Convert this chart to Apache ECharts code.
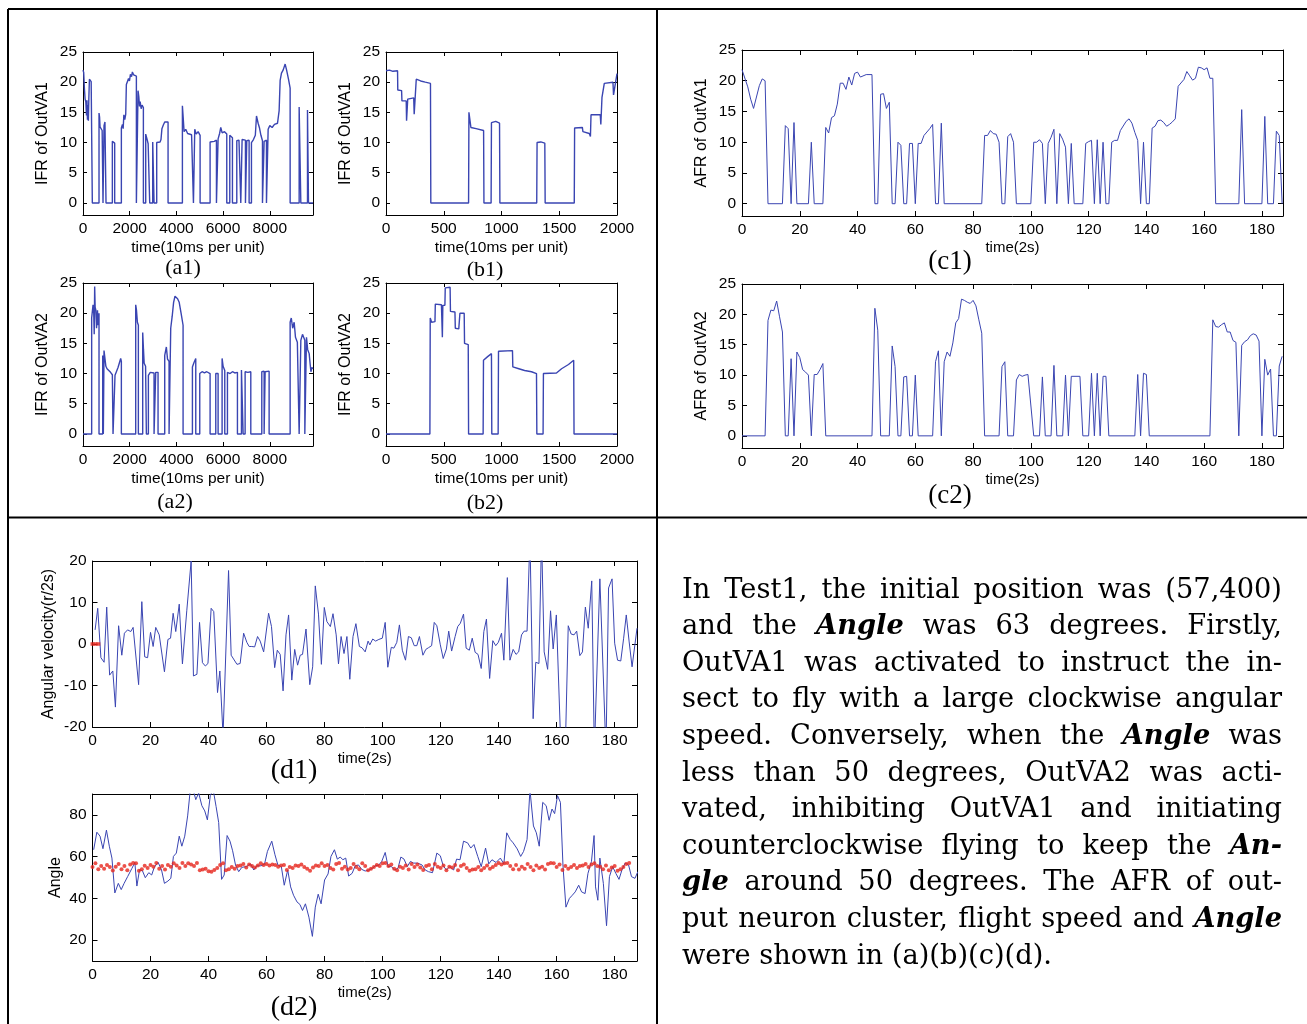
<!DOCTYPE html>
<html><head><meta charset="utf-8">
<script src="https://cdn.jsdelivr.net/npm/echarts@6/dist/echarts.min.js"></script>
<style>html,body{margin:0;padding:0;background:#fff}#c{width:1307px;height:1024px}</style>
</head><body><div id="c"></div><script>
// ---------- data ----------
const a1 = [[0,22],[30,21.6],[60,19],[90,17.2],[120,16.8],[150,14.5],[170,17],[190,13.8],[210,16.2],[230,13.6],[250,17.3],[270,17.6],[275,20.5],[310,20.3],[350,20.1],[395,19.9],[400,0],
[686,0],[686,14.9],[710,14.2],[730,12.6],[780,12.4],[820,12],[857,12.2],[857,0],
[900,0],[900,12.8],[940,13.4],[986,13.5],[986,0],
[1257,0],[1257,10.2],[1300,10],[1357,9.9],[1357,0],
[1643,0],[1643,12.4],[1690,13],[1720,12.3],[1750,14.6],[1790,13.8],[1830,14.7],[1857,19.6],[1900,19.8],[1950,20.6],[1990,20.2],[2030,21.3],[2080,20.9],[2115,21.7],[2170,21.2],[2230,21.5],[2286,21],[2286,0],
[2357,0],[2357,18.6],[2390,17.6],[2420,16],[2450,16.8],[2490,15.6],[2530,16.2],[2586,15.8],[2586,0],
[2686,0],[2686,11.4],[2740,10.6],[2790,9.8],[2857,9.9],[2857,0],
[2986,0],[2986,10.1],[3043,10.2],[3043,0],
[3157,0],[3157,10],[3220,10.3],[3300,10.1],[3340,10.5],[3380,12.3],[3440,12.9],[3500,13.4],[3580,13.2],[3643,13.4],[3643,0],
[4257,0],[4257,16.1],[4290,14.2],[4330,11.8],[4400,12.2],[4480,11.5],[4560,11.8],[4650,11.3],[4730,11.6],[4730,0],
[4786,0],[4786,12.2],[4850,11.4],[4930,11.8],[5015,11.2],[5015,0],
[5443,0],[5443,10.1],[5520,10.4],[5620,10.2],[5715,10.4],[5715,0],
[5786,0],[5786,10.6],[5850,11.5],[5900,12.5],[5960,11.6],[6060,11.8],[6157,11.4],[6157,0],
[6286,0],[6286,11.2],[6350,11.5],[6400,10.8],[6400,0],
[6586,0],[6586,10.3],[6680,10.4],[6757,10.2],[6757,0],
[6814,0],[6814,10.5],[6957,10.4],[6957,0],
[7014,0],[7014,10.3],[7114,10.4],[7114,0],
[7214,0],[7214,10],[7300,10.5],[7380,11.2],[7430,14.4],[7500,13.2],[7560,12.4],[7620,11.2],[7686,10.3],[7686,0],
[7757,0],[7757,10.2],[7857,10.4],[7857,0],
[7929,0],[7929,12.2],[8000,12.8],[8100,12.5],[8200,13],[8330,13.2],[8400,15.3],[8443,20.3],[8500,21.5],[8570,22],[8657,23],[8720,22],[8800,20.5],[8871,19],[8871,0],
[9257,0],[9257,15.9],[9329,15.9],[9329,0],
[9614,0],[9614,15.4],[9657,15.4],[9657,0],[9850,0]];

const a2 = [[0,0],[371,0],[371,19.2],[400,19],[430,21.4],[460,20],[480,16.5],[500,24.4],[520,21],[550,20.5],[580,17.5],[620,20.5],[650,18],[686,20],[686,0],
[843,0],[843,13],[871,13.2],[871,0],[900,0],[900,13.8],[940,14],[980,11.2],[1030,10.8],[1100,10.6],[1180,10.2],[1257,9.8],[1286,10],[1286,0],
[1371,0],[1371,9.7],[1430,10.3],[1500,11],[1560,11.8],[1614,12.5],[1643,12],[1643,0],
[2257,0],[2257,21.4],[2290,20.5],[2330,18.5],[2371,18],[2371,0],
[2557,0],[2557,16.8],[2590,14],[2620,11.7],[2680,11.2],[2714,11.5],[2714,0],
[2800,0],[2800,9.7],[2880,10.2],[2960,10.4],[3043,10.1],[3043,0],
[3114,0],[3114,10.2],[3214,10.2],[3214,0],
[3500,0],[3500,13],[3570,14.4],[3620,12.4],[3686,12],[3686,0],
[3757,0],[3757,17.5],[3820,19.5],[3880,21.8],[3940,22.8],[3971,23],[4050,22.4],[4120,21.8],[4200,20],[4286,18],[4286,0],
[4686,0],[4686,11.1],[4750,11.8],[4829,12.5],[4829,0],
[5000,0],[5000,10],[5100,10.3],[5200,10.1],[5300,10.3],[5443,10],[5443,0],
[5686,0],[5686,10],[5786,10],[5786,0],
[5957,0],[5957,12.5],[6000,11.2],[6071,10.5],[6071,0],
[6186,0],[6186,10.2],[6300,10],[6400,10.3],[6500,10.1],[6614,10.2],[6614,0],
[6786,0],[6786,10.6],[6857,10.4],[6857,0],
[6943,0],[6943,10.3],[7060,10.2],[7186,10.3],[7186,0],
[7657,0],[7657,10.3],[7757,10.4],[7757,0],
[7800,0],[7800,10.3],[7971,10.4],[7971,0],
[8871,0],[8871,18.5],[8920,19.2],[8980,17.5],[9043,18.5],[9100,16],[9180,15.2],[9257,15.3],[9257,0],
[9329,0],[9329,15.5],[9400,16.5],[9471,16.8],[9500,15.5],[9500,0],
[9571,0],[9571,16],[9620,14],[9686,13.3],[9730,11.5],[9760,10.3],[9800,11],[9850,10.8]];

const b1 = [[0,21.9],[30,22],[60,21.8],[100,21.9],[102,18.7],[135,18.6],[138,16.9],[175,16.9],[178,13.6],[185,13.8],[188,17.2],[240,17.4],[244,14.7],[258,14.5],[262,20.5],[300,20.2],[340,20],[385,19.8],[388,0],
[715,0],[718,15],[735,12.5],[780,12.3],[845,12],[848,0],
[910,0],[913,13.3],[950,13.5],[983,13.2],[986,0],
[1305,0],[1308,10],[1340,10.1],[1375,9.9],[1378,0],
[1630,0],[1633,12.4],[1700,12.5],[1705,11.8],[1760,11.5],[1770,11],[1775,14.6],[1855,14.6],[1860,13],[1870,17.5],[1890,19.8],[1965,20],[1970,17.9],[1985,18.2],[2000,21.4]];

const b2 = [[0,0],[380,0],[383,19.2],[395,18.5],[424,18.6],[427,21.5],[480,21.4],[488,16],[492,21.3],[510,21.3],[513,24.2],[555,24.3],[558,20.3],[597,20.2],[600,17.5],[630,17.4],[640,20],[677,20],[680,15],[712,14.8],[715,0],
[841,0],[844,12.2],[880,12.8],[913,13.3],[916,0],
[971,0],[974,13.7],[1095,13.8],[1098,11.1],[1150,10.8],[1200,10.5],[1260,10.3],[1303,10],[1306,0],
[1360,0],[1363,10],[1476,10.1],[1520,10.8],[1580,11.5],[1625,12.2],[1628,0],[2000,0]];

const c1 = [[0,21.8],[2,19],[3,17],[4,15.5],[6,19.2],[7,20.3],[8,20],[9,0],[14,0],[15,12.7],[16,12.2],[17,0],[18,13.2],[19,0],[23,0],[24,10],[25,0],[28,0],[29,12.4],[30,11.5],[31,14],[32,14.3],[33,16.2],[34,19.6],[35,19.6],[36,18.6],[37,20.6],[38,19.3],[39,21.2],[40,21.4],[41,20.6],[43,21],[45,21],[46,0],[47,0],[48,17.8],[49,17.9],[50,15.5],[51,16.5],[52,0],[53,0],[54,10],[55,9.5],[56,0],[57,0],[58,9.8],[59,9.8],[60,0],[61,9.8],[62,9.8],[63,11.1],[65,12.2],[66,12.9],[67,0],[68,0],[69,13.1],[70,0],[83,0],[84,11.1],[85,11.1],[86,11.9],[87,11.4],[88,11.3],[89,10],[90,0],[91,0],[92,10.9],[93,11.4],[94,10],[95,0],[100,0],[101,10],[102,10],[103,10.4],[104,9.8],[105,0],[106,9.8],[107,10.8],[108,12.1],[109,0],[110,11.4],[111,10.5],[112,9.2],[113,0],[114,9.8],[115,0],[118,0],[119,9.8],[120,10.1],[121,10.3],[122,0],[123,10.4],[124,0],[125,10],[126,0],[127,0],[128,10],[129,10.3],[130,10.3],[131,11.9],[133,13.4],[134,13.8],[135,13.1],[136,11.6],[137,10.3],[138,0],[139,10],[140,0],[141,0],[142,12.3],[143,12.6],[144,13.5],[145,13.6],[146,13.2],[147,12.6],[148,12.9],[149,13.3],[150,13.8],[151,19.1],[153,20.2],[154,21.5],[155,20.8],[156,20.1],[157,20.4],[158,22.2],[159,22.1],[160,21.8],[161,22.1],[162,20.4],[163,20.4],[164,0],[172,0],[173,15.3],[174,0],[180,0],[181,14.2],[182,0],[184,0],[185,11.8],[186,11.1],[187,0]];

const c2 = [[0,0],[8,0],[9,19],[10,20.7],[11,20.6],[12,22.2],[13,19.6],[14,17.1],[15,0],[16,0],[17,12.7],[18,0],[19,13.8],[20,12.9],[21,10.9],[22,10.5],[23,10],[24,0],[25,10.1],[26,10.1],[27,10.9],[28,11.9],[29,0],[45,0],[46,21],[47,17.4],[48,0],[51,0],[52,14.8],[53,11.4],[54,0],[55,0],[56,9.7],[57,9.8],[58,0],[59,0],[60,10],[61,0],[66,0],[67,12.2],[68,14],[69,0],[70,12.2],[71,13.8],[72,13.1],[73,15.3],[74,18.6],[75,19.3],[76,22.5],[77,22.3],[78,22],[79,21.8],[80,22.3],[81,21.4],[82,19.1],[83,16.9],[84,0],[89,0],[90,11.4],[91,12.2],[92,0],[94,0],[95,9.2],[96,10.1],[97,9.8],[98,10],[99,10.1],[101,0],[103,0],[104,9.7],[105,0],[107,0],[108,11.6],[109,0],[111,0],[112,10],[113,0],[114,9.8],[117,9.8],[118,0],[120,0],[121,10.3],[122,0],[123,10.3],[124,0],[125,9.8],[126,9.8],[127,0],[136,0],[137,10.1],[138,0],[139,10.3],[140,10.1],[141,0],[162,0],[163,19.1],[164,18],[165,17.9],[166,18.3],[167,18.6],[168,17.1],[169,17.1],[170,15.7],[171,15.4],[172,0],[173,14.9],[174,15.5],[175,15.8],[176,16.5],[177,16.8],[178,16.6],[179,15.6],[180,0],[181,12.6],[182,10],[183,11],[184,0],[185,0],[186,11.5],[187,13.1]];

const d1 = [[0.9,3.4],[1.8,8.6],[2.9,-3.3],[4,-4.4],[4.9,8.9],[5.9,-7.5],[7,-6.5],[7.9,-15.2],[9,4.4],[10.1,-2.7],[11,2.6],[12.1,3.4],[13.2,3],[14,4],[15.9,-9.8],[17,10.2],[18,-3.1],[19,-3.3],[20,2.8],[20.9,-0.6],[21.8,4],[23,2.2],[24.8,-6.7],[26,1.1],[26.9,1.4],[27.8,7.4],[28.7,3],[29.9,9.6],[31,-4.8],[32.5,8],[34,20],[34.8,-7.7],[36,-7.3],[36.9,5.2],[37.9,-4.5],[38.9,-5.3],[39.8,-4.7],[40.9,8.6],[41.8,7.8],[43.1,-11.7],[43.9,-6.5],[45,-22],[46.9,17.7],[47.8,-2.7],[49.8,-4.9],[50.9,-4.7],[52.1,2.6],[53.2,0.4],[54,-0.6],[54.9,-0.6],[55.9,-0.7],[56.9,1.8],[57.8,0.7],[59,-1.9],[60.7,7.4],[61.7,4.2],[62.8,-5.7],[63.7,-1.5],[64.7,-2.5],[65.7,-11.3],[66.7,2.2],[67.6,7],[68.7,-8.7],[69.7,-1.3],[70.7,-5.1],[71.6,-2.7],[72.4,-2.5],[73.6,3.6],[74.9,-9.8],[75.9,-5.5],[76.8,14],[77.9,7.2],[78.9,-4.9],[79.9,8.8],[80.8,5.4],[82,4.2],[82.9,7.3],[84,2.2],[84.8,-4.8],[85.7,1.8],[86.7,-2.3],[87.7,1.8],[88.7,-8.5],[89.8,1.8],[90.8,4.9],[92,-0.6],[92.9,-0.9],[94,-1.9],[95,0.7],[95.6,-0.2],[96.6,1.2],[97.6,0.7],[98.7,1.1],[99.9,1.4],[100.9,5.2],[101.8,-5.6],[103,-0.8],[103.9,-1],[104.9,0.4],[105.8,4.6],[106.8,-1.5],[107.9,-3.9],[108.9,1.8],[109.9,1.5],[110.9,-0.4],[111.8,-0.4],[112.7,1.8],[113.9,-2.7],[114.9,-1.3],[115.8,-0.9],[116.9,-0.4],[117.8,5.2],[118.7,4.4],[119.9,-0.2],[120.9,-3.5],[122,-1.2],[122.8,3.1],[123.8,-1.7],[125,1.8],[125.9,4.2],[126.8,5],[127.9,7.2],[128.8,-1],[129.9,-1.5],[130.9,1.4],[131.9,-2],[132.9,-2.5],[134,-5.9],[134.9,3],[135.8,6],[136.9,-8.3],[138,0.8],[139,-0.4],[139.9,0.4],[141,2.6],[141.8,-3.9],[143,16],[143.9,-3.9],[145,-1.3],[146,-2.5],[146.9,-1.9],[147.9,2.2],[148.8,3.1],[149.8,3.1],[150.8,26],[151.9,-18],[152.8,-4.4],[153.9,-4.7],[154.8,26],[155.7,-1.9],[156.9,-6.1],[157.9,8],[158.8,-1.2],[159.9,7],[161.5,-26],[163,-25],[164,4.4],[165,2.4],[166,2.2],[166.9,3.1],[168,-2.8],[168.9,-1.9],[169.9,8.9],[170.9,3.8],[172.1,15.2],[173,-26],[174.9,15.7],[177,-26],[177.9,13.5],[179.1,15.7],[180,0.2],[181,-3.9],[182.1,-4.1],[183.1,1.4],[184,7],[185,0.5],[186,-5.5],[187.7,3.8]];
const d1Red = [[0,0],[1,0],[2,0]];

const d2Angle = [[0.4,63.3],[1.5,71.7],[2.6,69.8],[3.6,63.8],[4.8,72.7],[5.8,65],[6.7,59.3],[7.7,42.6],[8.9,47.2],[9.9,44.2],[10.9,47.2],[12.1,50.4],[13.6,54.4],[14.6,57.2],[15.3,45.9],[16.2,53.6],[17.2,53.3],[18.2,49.9],[19.4,52.3],[20.4,51.2],[21.3,54.9],[22.6,57.3],[23.8,53.6],[24.8,47.2],[26,48.3],[27,49.6],[27.9,60.1],[28.9,61.7],[29.9,69.8],[30.8,65],[31.8,69.8],[32.8,79.5],[33.6,90.5],[34.7,92],[35.6,87.3],[36.6,90.5],[37.7,84.4],[38.7,81.9],[39.6,77.6],[40.6,89.2],[41.6,92.1],[42.6,84],[43.5,76.3],[44.5,49.1],[45.4,51.2],[46.4,70.1],[47.4,67.4],[48.3,62.8],[49.3,56],[50.4,52.8],[51.5,54.9],[53,55.2],[54.5,56.5],[55.6,53.6],[56.6,55.6],[58.1,55.6],[59.3,56.4],[60.3,62.5],[61.8,67.4],[62.9,60.9],[63.9,56],[65.1,55.2],[66.1,46.3],[67.3,53.6],[68.3,45.5],[69.3,41.5],[70.5,38.3],[71.5,37.1],[72.4,34.2],[73.4,37.4],[74.6,31],[75.8,21.8],[76.8,35.8],[77.8,42],[78.8,37.4],[80,48.8],[81.2,51.7],[82.2,60.1],[83.4,63.3],[84.4,58.8],[85.4,59.8],[86.3,58.5],[87.3,59.3],[88.3,50.7],[89.5,52],[90.6,55.7],[91.7,56],[92.8,53.9],[94,53.1],[95.3,53.6],[96.5,54.4],[97.5,55.6],[98.7,56],[99.7,57.7],[100.9,62],[101.9,55.2],[103.1,55.2],[104.1,53.6],[105.3,54.4],[106.3,59.8],[107.4,58.8],[108.5,55.2],[109.6,57.7],[110.7,56.9],[112.1,56.9],[113.6,56],[114.7,53.6],[115.8,52.8],[117.2,52.3],[118.7,61.7],[119.9,60.4],[120.9,55.6],[122,53.6],[123.1,55.2],[124.5,53.6],[125.5,58.8],[126.7,58.5],[127.9,67.4],[129.3,66.6],[130.4,64.1],[131.5,65.8],[132.8,60.1],[134,55.2],[135.5,64.1],[136.6,56.5],[137.7,58.5],[139.1,57.2],[140.6,59.3],[141.8,56.5],[142.8,71.4],[144,68.2],[145,66.6],[146.4,63.7],[147.6,60.1],[148.6,62.5],[149.8,68.2],[150.8,92],[152,74.7],[153,71.4],[154,65],[155.2,86],[156.4,84.4],[157.4,77.4],[158.4,82.8],[159.3,80.6],[160.3,89.2],[161.3,86],[162.2,55.2],[163.2,35.8],[164.4,40],[165.4,41.5],[166.4,43.1],[167.6,46.3],[168.6,43.1],[169.8,42.3],[170.8,52],[172,57.7],[172.9,70.1],[173.4,45.5],[174.2,39.1],[174.9,59.3],[176.1,47.2],[177.2,26.9],[178.2,50.4],[179.3,55.2],[180.4,52],[181.5,49.1],[182.5,53.6],[183.6,56.9],[184.8,56],[185.8,50.4],[187,49.6],[188,52.8]];

const d2Target = [55,56.8,54,55.5,54.2,56,55,53.4,55.2,56.5,54,55.5,53.5,56.2,57,56.8,53.2,54,55.6,54.5,56,55.2,57,54.2,55.5,53.8,56,55.2,56.8,55.8,54.5,57,55.5,56.8,56.2,55.5,57,53.5,53.8,54.2,53,52.8,53.6,54.5,56,56.8,53.5,54,55,54.2,55.5,55.8,56.5,54.8,56.2,55.5,54.8,55.8,56.8,56,56.5,55.8,56.2,56,55.2,55.8,56,53.6,55,54.5,55.8,55.5,56.2,55,54.2,53.2,54.8,55.8,55.5,56.8,55.5,56,54.5,53.8,56.5,57,54.2,55.2,53.8,54.5,56.5,55,54,56.8,55.5,53.5,54.2,55,56,55.5,56.8,57,55.5,56.2,54.2,53.5,55.2,54.5,55.8,53.8,56.5,55,56.2,54.8,53.6,55.5,56,54,56.5,55.2,54.5,55.8,53.5,55.2,54.8,56,53.5,55.5,56.2,54.5,53.2,53.8,54,55,53.5,54.5,55.8,54.2,55,56,57,56.2,56.8,57,55.5,54,56,53.8,55.2,54.2,56.5,55,53.5,55.8,54.5,55.2,53.8,56.5,57,56.8,55,56.2,53.6,55.5,54.2,55,56,54.5,55.5,55.8,56.5,55,56.2,56.8,55.5,55.2,54,55.8,53.5,54.8,55.5,53.2,54,55,56.5,57];

const paraLines = [
 'In Test1, the initial position was (57,400)',
 'and the *Angle* was 63 degrees. Firstly,',
 'OutVA1 was activated to instruct the in-',
 'sect to fly with a large clockwise angular',
 'speed. Conversely, when the *Angle* was',
 'less than 50 degrees, OutVA2 was acti-',
 'vated, inhibiting OutVA1 and initiating',
 'counterclockwise flying to keep the *An-*',
 '*gle* around 50 degrees. The AFR of out-',
 'put neuron cluster, flight speed and *Angle*',
 'were shown in (a)(b)(c)(d).'
];

// ---------- styling / layout ----------
const BLUE = '#3a45b2', RED = '#e6261d';
const SANS = '"Liberation Sans", Arial, sans-serif';
const SERIF = '"Liberation Serif", "Times New Roman", serif';
const PSERIF = '"DejaVu Serif", serif';

const panels = [
  {rect:[83,52,230,163],  x:[0,9850,2000], yName:'IFR of OutVA1', xName:'time(10ms per unit)', data:a1, kind:'ab', lw:1.4},
  {rect:[386,52,231,163], x:[0,2000,500],  yName:'IFR of OutVA1', xName:'time(10ms per unit)', data:b1, kind:'ab', lw:1.4},
  {rect:[83,283,230,163], x:[0,9850,2000], yName:'IFR of OutVA2', xName:'time(10ms per unit)', data:a2, kind:'ab', lw:1.4},
  {rect:[386,283,231,163],x:[0,2000,500],  yName:'IFR of OutVA2', xName:'time(10ms per unit)', data:b2, kind:'ab', lw:1.4},
  {rect:[742,50,541,166], x:[0,187.3,20],  yName:'AFR of OutVA1', xName:'time(2s)', data:c1, kind:'c', lw:1},
  {rect:[742,284,541,164],x:[0,187.3,20],  yName:'AFR of OutVA2', xName:'time(2s)', data:c2, kind:'c', lw:1},
  {rect:[92.5,561,544.5,166], x:[0,187.7,20], yName:'Angular velocity(r/2s)', xName:'time(2s)', data:d1, kind:'d1', lw:1},
  {rect:[92.5,794,544.5,167], x:[0,187.7,20], yName:'Angle', xName:'time(2s)', data:d2Angle, kind:'d2', lw:1}
];

const grids = [], xAxes = [], yAxes = [], series = [];
panels.forEach((p, i) => {
  const [l, t, w, h] = p.rect;
  grids.push({left:l, top:t, width:w, height:h, show:false});
  const tl = p.kind === 'ab' ? 4 : 5;
  const lineS = {onZero:false, lineStyle:{color:'#000', width:1}};
  const tickS = {inside:true, length:tl, lineStyle:{color:'#000', width:1}};
  const lab = {color:'#000', fontFamily:SANS, fontSize:15.5, margin:6};
  const xBase = {gridIndex:i, type:'value', min:p.x[0], max:p.x[1], interval:p.x[2],
    axisLine:lineS, axisTick:tickS, splitLine:{show:false}};
  xAxes.push(Object.assign({}, xBase, {position:'bottom',
    axisLabel:Object.assign({}, lab, {showMaxLabel: p.x[1] % p.x[2] === 0,
      formatter: v => (v % p.x[2] === 0 ? String(v) : '')}),
    name:p.xName, nameLocation:'middle', nameGap:p.kind==='ab'?25:24,
    nameTextStyle:{color:'#000', fontFamily:SANS, fontSize:p.kind==='ab'?15.5:15}}));
  xAxes.push(Object.assign({}, xBase, {position:'top', axisLabel:{show:false}}));
  let yb;
  if (p.kind === 'd1') yb = {min:-20, max:20, interval:10};
  else if (p.kind === 'd2') yb = {min:10, max:90, splitNumber:4};
  else yb = {min:-2, max:25, splitNumber:5};
  const yBase = Object.assign({gridIndex:i, type:'value', axisLine:lineS, axisTick:tickS, splitLine:{show:false}}, yb);
  let yGap = 32;
  if (p.kind === 'd1') yGap = 36;
  if (p.kind === 'd2') yGap = 29;
  yAxes.push(Object.assign({}, yBase, {position:'left',
    axisLabel:Object.assign({}, lab, {showMinLabel: p.kind==='d1', showMaxLabel: p.kind!=='d2',
      formatter: v => {
        if (p.kind === 'd2') return (v % 20 === 0 && v > 10 && v < 90) ? String(v) : '';
        if (p.kind === 'd1') return String(v);
        return (v >= 0 && v % 5 === 0) ? String(v) : '';
      }}),
    name:p.yName, nameLocation:'middle', nameGap:yGap,
    nameTextStyle:{color:'#000', fontFamily:SANS, fontSize:16}}));
  yAxes.push(Object.assign({}, yBase, {position:'right', axisLabel:{show:false}}));
  series.push({type:'line', xAxisIndex:2*i, yAxisIndex:2*i, data:p.data, showSymbol:false, symbol:'none',
    lineStyle:{color:BLUE, width:p.lw}, clip:true, animation:false, silent:true, z:3});
});
// red markers
series.push({type:'scatter', xAxisIndex:12, yAxisIndex:12, data:d1Red, symbol:'rect', symbolSize:[4,3.5],
  itemStyle:{color:RED}, animation:false, silent:true, z:4});
series.push({type:'scatter', xAxisIndex:14, yAxisIndex:14, data:d2Target.map((v, k) => [k, v]), symbol:'circle', symbolSize:4,
  itemStyle:{color:RED}, animation:false, silent:true, z:4});

// ---------- graphics: frame lines, sub-labels, paragraph ----------
const graphic = [];
const L = (x1, y1, x2, y2) => graphic.push({type:'line', shape:{x1, y1, x2, y2}, style:{stroke:'#000', lineWidth:2}, silent:true});
L(8, 9, 1307, 9); L(8, 9, 8, 1024); L(657, 9, 657, 1024); L(8, 517.5, 1307, 517.5);

const subLabels = [
  ['(a1)', 183, 268, 22], ['(b1)', 485, 270, 22], ['(a2)', 175, 502, 22], ['(b2)', 485, 503, 22],
  ['(c1)', 950, 262, 27], ['(c2)', 950, 496, 27], ['(d1)', 294, 771, 28], ['(d2)', 294, 1008, 28]
];
subLabels.forEach(([txt, x, y, fs]) => graphic.push({type:'text', x, y, silent:true,
  style:{text:txt, fontFamily:SERIF, fontSize:fs, fill:'#000', align:'center', verticalAlign:'middle'}}));

// paragraph (justified)
const cv = document.createElement('canvas').getContext('2d');
const parse = line => line.split(' ').map(w => ({t: w.replace(/\*/g, ''), bi: w.startsWith('*')}));
const fontStr = (fs, bi) => (bi ? 'italic bold ' : '') + fs + 'px ' + PSERIF;
const measure = (tok, fs) => { cv.font = fontStr(fs, tok.bi); return cv.measureText(tok.t).width; };
const X0 = 682, X1 = 1282, W = X1 - X0;
let FS = 28;
let maxNat = 0;
paraLines.slice(0, -1).forEach(line => {
  const toks = parse(line);
  cv.font = fontStr(FS, false);
  const sp = cv.measureText(' ').width;
  const nat = toks.reduce((s, tk) => s + measure(tk, FS), 0) + sp * (toks.length - 1);
  maxNat = Math.max(maxNat, nat);
});
if (maxNat > W * 0.985) FS = FS * W * 0.985 / maxNat;
cv.font = fontStr(FS, false);
const spaceW = cv.measureText(' ').width;
paraLines.forEach((line, li) => {
  const toks = parse(line);
  const widths = toks.map(tk => measure(tk, FS));
  const sum = widths.reduce((a, b) => a + b, 0);
  const last = li === paraLines.length - 1;
  const gap = (last || toks.length < 2) ? spaceW : (W - sum) / (toks.length - 1);
  let x = X0;
  const y = 590.5 + li * 36.6;
  toks.forEach((tk, k) => {
    graphic.push({type:'text', x, y, silent:true,
      style:{text:tk.t, fontFamily:PSERIF, fontSize:FS, fontWeight:tk.bi?'bold':'normal', fontStyle:tk.bi?'italic':'normal',
        fill:'#000', align:'left', verticalAlign:'middle'}});
    x += widths[k] + gap;
  });
});

const chart = echarts.init(document.getElementById('c'), null, {renderer:'canvas'});
chart.setOption({
  animation:false, backgroundColor:'#fff',
  grid:grids, xAxis:xAxes, yAxis:yAxes, series, graphic
});
</script></body></html>
